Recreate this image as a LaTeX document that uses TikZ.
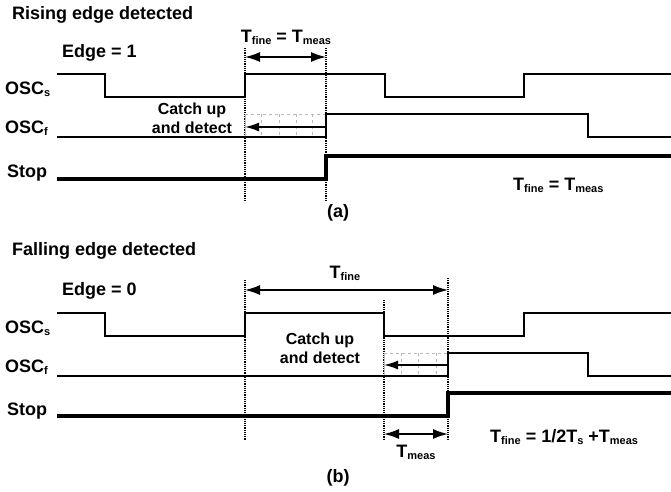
\documentclass[tikz,border=0pt]{standalone}
\usepackage{fontspec}
\setmainfont{Liberation Sans}
\usetikzlibrary{arrows.meta}
\newcommand{\sub}[1]{\raisebox{-0.3ex}{\fontsize{11}{11}\selectfont #1}}

\tikzset{
  wave/.style={line width=1.6pt},
  stopwave/.style={line width=3.2pt},
  guide/.style={densely dotted, line width=1.2pt},
  cell/.style={gray!55, dashed, line width=0.9pt},
  span/.style={{Latex[length=15pt,width=10pt]}-{Latex[length=15pt,width=10pt]}, line width=1.5pt},
  back/.style={-{Latex[length=14pt,width=9pt]}, line width=1.6pt},
  lbl/.style={font=\fontsize{18}{18}\selectfont\bfseries, inner sep=0pt},
  small/.style={font=\fontsize{16}{19}\selectfont\bfseries, inner sep=0pt, align=center},
}

\begin{document}
\begin{tikzpicture}[x=1pt, y=-1pt]
    \useasboundingbox (0,0) rectangle (671,491);

    % (a) rising edge
    \node[lbl, anchor=base west] (titleA) at (12,19) {Rising edge detected};
    \node[lbl, anchor=base west] (edgeA)  at (62,57) {Edge = 1};
    \node[lbl, anchor=base]      (spanAl) at (286,42) {T\sub{fine} = T\sub{meas}};
    \node[lbl, anchor=base west] (oscsA)  at (5,94)  {OSC\sub{s}};
    \node[lbl, anchor=base west] (oscfA)  at (5,133) {OSC\sub{f}};
    \node[lbl, anchor=base west] (stopA)  at (7,177) {Stop};
    \node[small] (catchA) at (192,118) {Catch up\\and detect};
    \node[lbl, anchor=base west] (resA)   at (513,190) {T\sub{fine} = T\sub{meas}};
    \node[lbl] (capA) at (338,213) {(a)};

    \coordinate (a0) at (245,57);
    \coordinate (a1) at (326,57);
    \coordinate (c0) at (326,127);
    \coordinate (c1) at (245,127);

    \draw[guide] (245,48) -- (245,200);
    \draw[guide] (326,48) -- (326,200);

    % grid
    \draw[gray!50, line width=0.9pt] (245,114) -- (245,137);
    \draw[cell] (245,114) -- (326,114);
    \foreach \x in {261,279,296,312}
        \draw[cell] (\x,114) -- (\x,137);

    \draw[wave] (57,74) -- (105,74) -- (105,97) -- (245,97) -- (245,74) -- (385,74)
        -- (385,97) -- (524,97) -- (524,74) -- (671,74);
    \draw[wave] (57,137) -- (326,137) -- (326,114) -- (588,114) -- (588,137) -- (671,137);
    \draw[stopwave] (57,179) -- (326,179) -- (326,156) -- (671,156);

    \draw[span] (a0) -- (a1);
    \draw[back] (c0) -- (c1);

    % (b) falling edge
    \node[lbl, anchor=base west] (titleB) at (12,255) {Falling edge detected};
    \node[lbl, anchor=base west] (edgeB)  at (62,295) {Edge = 0};
    \node[lbl, anchor=base]      (spanBl) at (345,278) {T\sub{fine}};
    \node[lbl, anchor=base west] (oscsB)  at (5,333) {OSC\sub{s}};
    \node[lbl, anchor=base west] (oscfB)  at (5,372) {OSC\sub{f}};
    \node[lbl, anchor=base west] (stopB)  at (7,415) {Stop};
    \node[small] (catchB) at (320,348) {Catch up\\and detect};
    \node[lbl, anchor=base]      (measB)  at (416,457) {T\sub{meas}};
    \node[lbl, anchor=base west] (resB)   at (490,442) {T\sub{fine} = 1/2T\sub{s} +T\sub{meas}};
    \node[lbl] (capB) at (338,478) {(b)};

    \coordinate (b0) at (245,290);
    \coordinate (b1) at (448,290);
    \coordinate (m0) at (384,434);
    \coordinate (m1) at (448,434);
    \coordinate (d0) at (448,365);
    \coordinate (d1) at (384,365);

    \draw[guide] (245,280) -- (245,440);
    \draw[guide] (448,278) -- (448,440);
    \draw[guide] (384,300) -- (384,440);

    % grid
    \draw[gray!50, line width=0.9pt] (384,353) -- (384,376);
    \draw[cell] (384,353) -- (448,353);
    \foreach \x in {401,418,436}
        \draw[cell] (\x,353) -- (\x,376);

    \draw[wave] (57,313) -- (105,313) -- (105,336) -- (245,336) -- (245,313) -- (384,313)
        -- (384,336) -- (524,336) -- (524,313) -- (671,313);
    \draw[wave] (57,376) -- (448,376) -- (448,353) -- (588,353) -- (588,376) -- (671,376);
    \draw[stopwave] (57,416) -- (448,416) -- (448,393) -- (671,393);

    \draw[span] (b0) -- (b1);
    \draw[span] (m0) -- (m1);
    \draw[back] (d0) -- (d1);
\end{tikzpicture}
\end{document}
